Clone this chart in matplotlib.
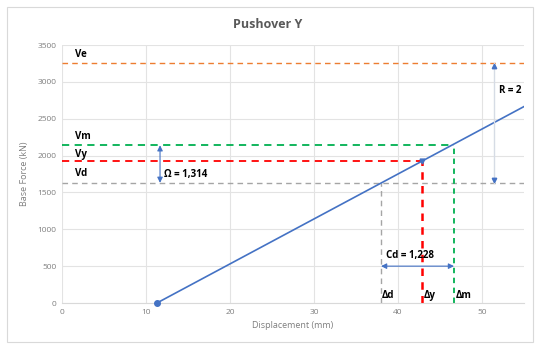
import matplotlib
matplotlib.use("Agg")
import matplotlib.pyplot as plt
from matplotlib.patches import Rectangle

# Data
curve_x = [11.3, 55.0]
curve_y = [0.0, 2665.0]
Ve, Vm, Vy, Vd = 3260.0, 2140.0, 1925.0, 1630.0
dd, dy, dm = 37.98, 42.86, 46.67
x_ticks = [0, 10, 20, 30, 40, 50]
y_ticks = [0, 500, 1000, 1500, 2000, 2500, 3000, 3500]

plt.rcParams['font.family'] = ['Open Sans', 'DejaVu Sans']

fig = plt.figure(figsize=(5.35, 3.44), dpi=100)
ax = fig.add_axes([62/535, 1-303/344, 462/535, 258/344])

blue = '#4472C4'
orange = '#ED7D31'
green = '#00B050'
red = '#FF0000'
gray = '#A5A5A5'

ax.set_xlim(0, 55)
ax.set_ylim(0, 3500)
ax.set_xticks(x_ticks)
ax.set_yticks(y_ticks)
ax.grid(True, color='#E3E3E3', lw=0.8)
ax.set_axisbelow(True)
for s in ['top', 'right', 'left']:
    ax.spines[s].set_visible(False)
ax.spines['bottom'].set_color('#D9D9D9')
ax.tick_params(length=0, labelsize=6, labelcolor='#7F7F7F', pad=4)

# horizontal lines
ax.axhline(Ve, color=orange, ls=(0, (4, 3)), lw=1.0)
ax.axhline(Vd, color=gray, ls=(0, (4, 3)), lw=1.0)
ax.plot([0, dm], [Vm, Vm], color=green, ls=(0, (4, 3)), lw=1.3)
ax.plot([0, dy], [Vy, Vy], color=red, ls=(0, (4, 3)), lw=1.3)
# vertical lines
ax.plot([dd, dd], [0, Vd], color=gray, ls=(0, (4, 3)), lw=1.0)
ax.plot([dy, dy], [0, Vy], color=red, ls=(0, (3, 2.5)), lw=1.8)
ax.plot([dm, dm], [0, Vm], color=green, ls=(0, (3, 2.5)), lw=1.3)

# curve
ax.plot(curve_x, curve_y, color=blue, lw=1.2)
ax.plot([curve_x[0]], [curve_y[0]], 'o', color=blue, ms=4, clip_on=False, zorder=5)
ax.plot([dy], [Vy], marker='v', color=blue, ms=3.5, zorder=5)

# arrows
ms = 8
ap = dict(arrowstyle='<|-|>', color=blue, lw=0.8, mutation_scale=ms, shrinkA=0, shrinkB=0)
ax.annotate('', xy=(11.67, Vm), xytext=(11.67, Vd), arrowprops=ap)
ax.annotate('', xy=(dm, 500), xytext=(dd, 500), arrowprops=ap)
ax.plot([51.4, 51.4], [Vd, Ve], color='#D6DCE5', lw=1.0)
ax.plot([51.4], [Ve - 40], marker='^', color=blue, ms=3.2, zorder=5)
ax.plot([51.4], [Vd + 40], marker='v', color=blue, ms=3.2, zorder=5)

fs = 7
tk = dict(fontsize=fs, fontweight='bold', color='black')
ax.text(1.5, Ve + 40, 'Ve', va='bottom', **tk)
ax.text(1.5, Vm + 50, 'Vm', va='bottom', **tk)
ax.text(1.5, Vy + 20, 'Vy', va='bottom', **tk)
ax.text(1.5, Vd + 50, 'Vd', va='bottom', **tk)
ax.text(12.2, Vd + 110, 'Ω = 1,314', va='center', **tk)
ax.text(52.0, 2880, 'R = 2', va='center', **tk)
ax.text(38.6, 640, 'Cd = 1,228', va='center', **tk)
ax.text(38.1, 95, 'Δd', va='center', **tk)
ax.text(43.1, 95, 'Δy', va='center', **tk)
ax.text(46.9, 95, 'Δm', va='center', **tk)

ax.set_xlabel('Displacement (mm)', fontsize=6.5, color='#7F7F7F', labelpad=4)
ax.set_ylabel('Base Force (kN)', fontsize=6.5, color='#7F7F7F', labelpad=6)
fig.text(0.5, 1 - 24/344, 'Pushover Y', ha='center', va='center', fontsize=9,
         fontweight='bold', color='#595959')

fig.patches.append(Rectangle((7/535, 2/344), 526/535, 335/344, transform=fig.transFigure,
                             fill=False, edgecolor='#D9D9D9', lw=0.8))

fig.savefig('out.png', dpi=100)
